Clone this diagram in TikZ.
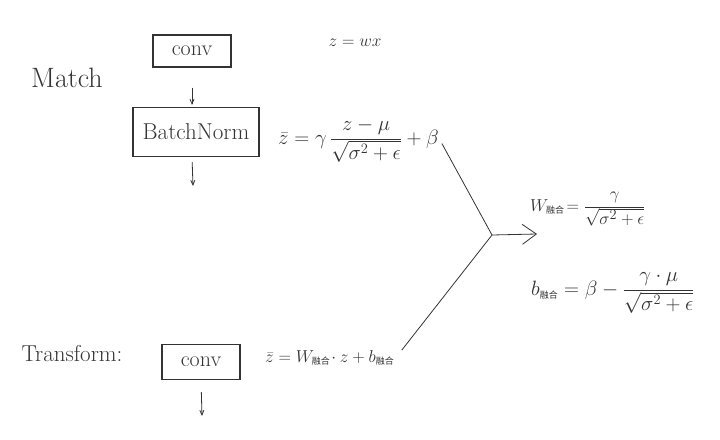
\documentclass[tikz,border=0pt]{standalone}
\usepackage{fontspec}
\newfontfamily\cjk{Noto Sans CJK SC}
\usetikzlibrary{arrows, arrows.meta, positioning}
\tikzstyle{block} = [rectangle, draw=black!80, line width=1.2pt, inner sep=0pt, text centered]
\tikzstyle{arrow} = [line width=0.8pt, black!80, ->, >=angle 45]
\tikzstyle{hand} = [font=\fontsize{20}{24}\selectfont, text=black!80, inner sep=1pt]
\tikzstyle{wire} = [line width=0.8pt, black!80]
\newcommand{\fuse}{\mbox{\cjk\fontsize{9}{9}\selectfont 融合}}

\begin{document}
\begin{tikzpicture}[x=1pt, y=-1pt]
    \useasboundingbox (0,0) rectangle (720,439);

    % Match part
    \node (match) [hand, font=\fontsize{28}{30}\selectfont] at (67,78) {Match};
    \node (conv) [block, minimum width=78pt, minimum height=32pt, hand, font=\fontsize{22}{24}\selectfont] at (192,51) {conv};
    \node (bn) [block, minimum width=126pt, minimum height=49pt, hand, font=\fontsize{23}{24}\selectfont] at (196,132) {BatchNorm};
    \coordinate (bnout) at (193,186);

    \draw [arrow, shorten <=20pt, shorten >=2pt] (conv.south) -- (conv.south |- bn.north);
    \draw [arrow, shorten <=5pt] (bn.south -| conv.south) -- (bnout);

    \node (zeq) [hand, font=\fontsize{18}{20}\selectfont] at (355,43) {$z = wx$};
    \node (zbar) [hand, anchor=west] at (277,140) {$\bar z = \gamma\,\displaystyle\frac{z-\mu}{\sqrt{\sigma^2+\epsilon}} + \beta$};

    % fuse
    \coordinate (join) at (492,235);
    \coordinate (tip) at (537,234);
    \node (wf) [hand, anchor=west, font=\fontsize{19}{22}\selectfont] at (529,209) {$W_{\fuse}\!= \displaystyle\frac{\gamma}{\sqrt{\sigma^2+\epsilon}}$};
    \node (bf) [hand, anchor=west, font=\fontsize{21}{24}\selectfont] at (530,293) {$b_{\fuse} = \beta - \displaystyle\frac{\gamma\cdot\mu}{\sqrt{\sigma^2+\epsilon}}$};

    % Transform part
    \node (trans) [hand, font=\fontsize{23}{24}\selectfont] at (72,354) {Transform:};
    \node (tconv) [block, minimum width=78pt, minimum height=35pt, hand, font=\fontsize{22}{24}\selectfont] at (201,362) {conv};
    \coordinate (tout) at (202,416);
    \draw [arrow, shorten <=12pt] (tconv.south) -- (tout);
    \node (tz) [hand, anchor=west, font=\fontsize{18}{20}\selectfont] at (264,358) {$\bar z = W_{\fuse}\!\cdot z + b_{\fuse}$};

    \draw [wire, shorten <=4pt] (zbar.east) -- (join);
    \draw [wire, shorten <=10pt] (tz.east) -- (join);
    \draw [wire, -{Straight Barb[length=14pt, width=20pt]}] (join) -- (tip);

\end{tikzpicture}
\end{document}
